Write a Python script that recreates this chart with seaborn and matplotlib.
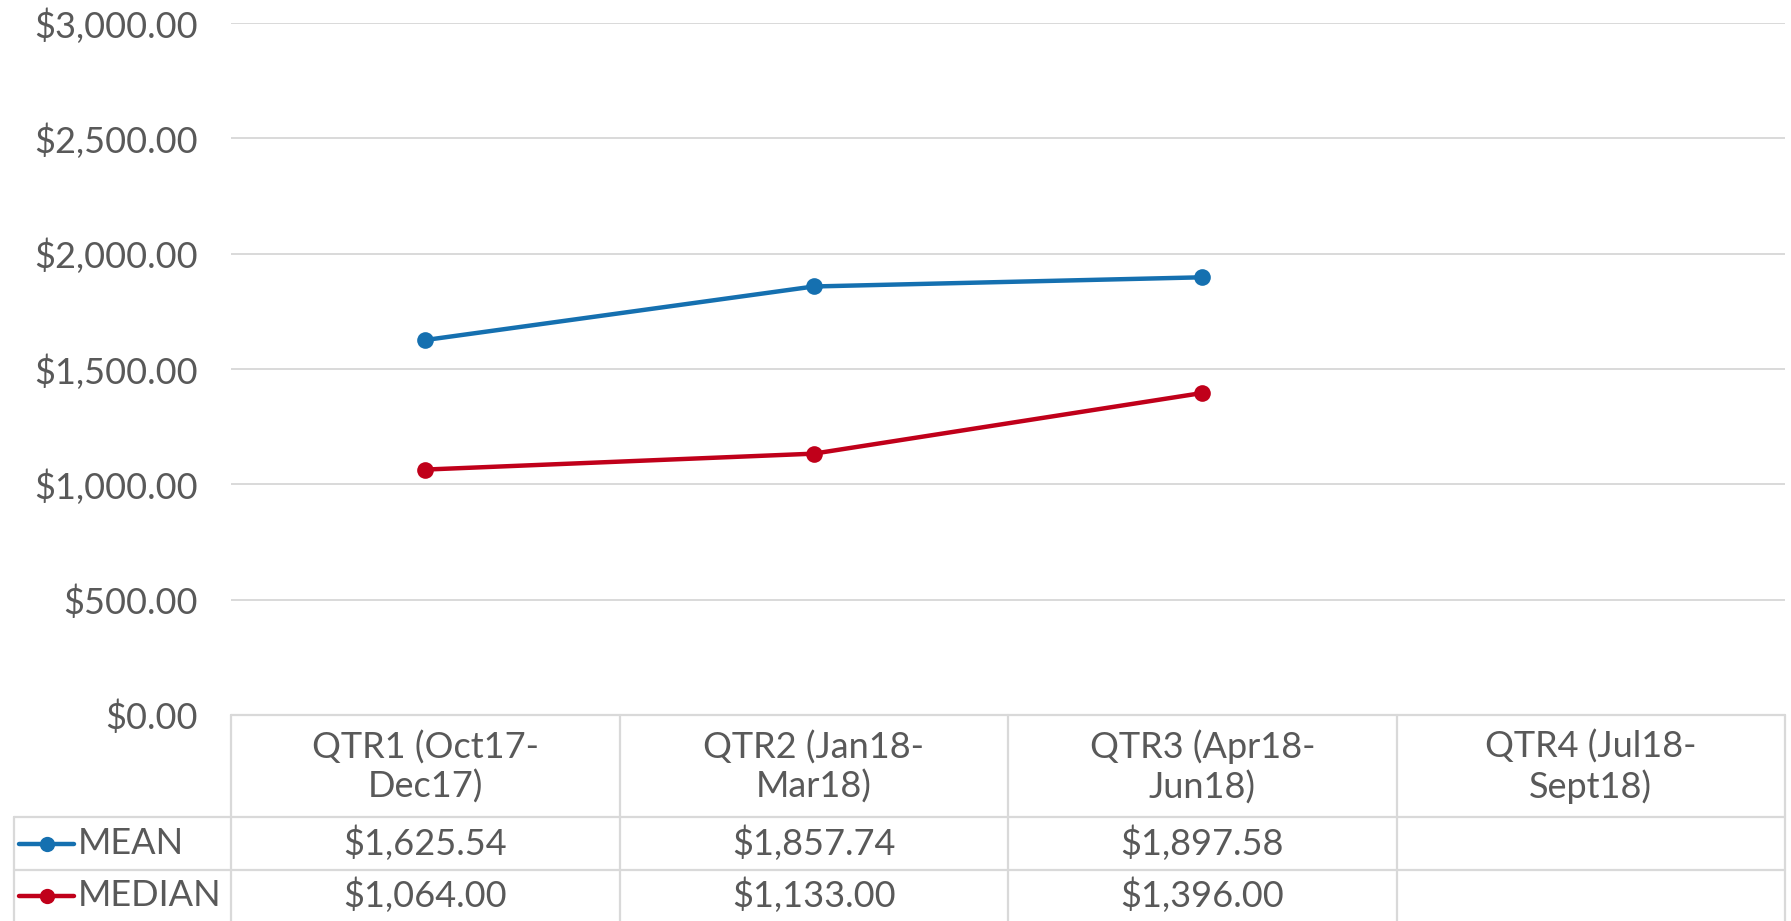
import numpy as np
import pandas as pd
import seaborn as sns
import matplotlib.pyplot as plt
from matplotlib.lines import Line2D
from matplotlib.ticker import FuncFormatter

# data
quarters = ["QTR1 (Oct17-\nDec17)", "QTR2 (Jan18-\nMar18)",
            "QTR3 (Apr18-\nJun18)", "QTR4 (Jul18-\nSept18)"]
series_names = ["MEAN", "MEDIAN"]
mean_vals = [1625.54, 1857.74, 1897.58, np.nan]
median_vals = [1064.00, 1133.00, 1396.00, np.nan]
y_ticks = [0, 500, 1000, 1500, 2000, 2500, 3000]

colors = {"MEAN": "#1570B0", "MEDIAN": "#C0001A"}
text_color = "#595959"
grid_color = "#D9D9D9"
fs = 26

sns.set_theme(style="white")
plt.rcParams['font.family'] = ['Lato', 'DejaVu Sans']

W, H = 1791, 921
fig = plt.figure(figsize=(W / 100, H / 100), dpi=100)

# plot area in pixels
left_px, right_px, top_px, bottom_px = 231, 1785, 23, 715
ax = fig.add_axes([left_px / W, 1 - bottom_px / H,
                   (right_px - left_px) / W, (bottom_px - top_px) / H])

df = pd.DataFrame({
    "pos": list(range(len(quarters))) * 2,
    "value": mean_vals + median_vals,
    "series": ["MEAN"] * len(quarters) + ["MEDIAN"] * len(quarters),
}).dropna()

sns.lineplot(data=df, x="pos", y="value", hue="series", palette=colors,
             marker="o", markersize=12, markeredgewidth=0, linewidth=3.2,
             legend=False, ax=ax, zorder=3)

ax.set_xlim(-0.5, len(quarters) - 0.5)
ax.set_ylim(0, 3000)
ax.set_yticks(y_ticks)
ax.yaxis.set_major_formatter(FuncFormatter(lambda v, p: f"${v:,.2f}"))
ax.tick_params(axis="y", labelsize=fs, colors=text_color, length=0, pad=24)
ax.set_xticks([])
ax.set_xlabel("")
ax.set_ylabel("")
ax.grid(axis="y", color=grid_color, linewidth=1.4)
for s in ax.spines.values():
    s.set_visible(False)


# data table under the plot
def fx(px):
    return px / W


def fy(py):
    return 1 - py / H


def hline(x0, x1, y):
    fig.add_artist(Line2D([fx(x0), fx(x1)], [fy(y), fy(y)], color=grid_color, lw=1.6))


def vline(x, y0, y1):
    fig.add_artist(Line2D([fx(x), fx(x)], [fy(y0), fy(y1)], color=grid_color, lw=1.6))


head_top, head_bot, row_mid, tab_bot = 715, 817, 870, 921
col_w = (right_px - left_px) / len(quarters)
col_edges = [left_px + i * col_w for i in range(len(quarters) + 1)]

hline(left_px, right_px, head_top)
hline(14, right_px, head_bot)
hline(14, right_px, row_mid)
vline(14, head_bot, tab_bot)
for xe in col_edges:
    vline(xe, head_top, tab_bot)

for i, q in enumerate(quarters):
    xc = (col_edges[i] + col_edges[i + 1]) / 2
    fig.text(fx(xc), fy((head_top + head_bot) / 2 + 1), q, ha="center", va="center",
             fontsize=fs, color=text_color, linespacing=1.2)

rows = [("MEAN", mean_vals, (head_bot + row_mid) / 2),
        ("MEDIAN", median_vals, (row_mid + tab_bot) / 2)]
for name, vals, yc in rows:
    fig.add_artist(Line2D([fx(19), fx(46.5), fx(74)], [fy(yc)] * 3,
                          color=colors[name], lw=3.2, marker="o", markersize=11,
                          markeredgewidth=0, markevery=[1]))
    fig.text(fx(78), fy(yc), name, ha="left", va="center", fontsize=fs, color=text_color)
    for i, v in enumerate(vals):
        if np.isnan(v):
            continue
        xc = (col_edges[i] + col_edges[i + 1]) / 2
        fig.text(fx(xc), fy(yc), f"${v:,.2f}", ha="center", va="center",
                 fontsize=fs, color=text_color)

fig.savefig("out.png", dpi=100)
